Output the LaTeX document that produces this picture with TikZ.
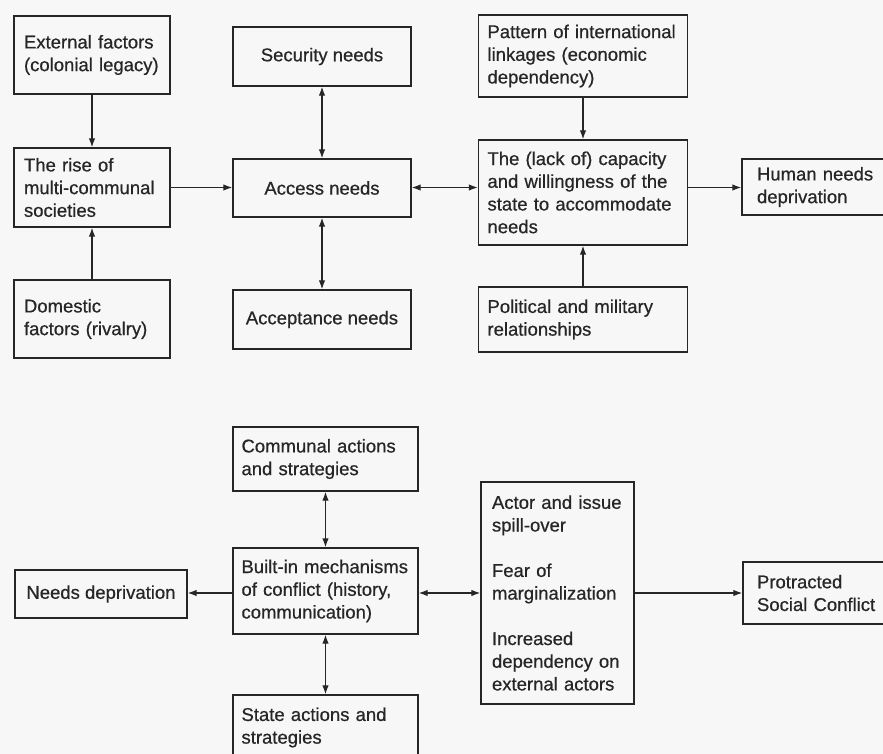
\documentclass[tikz,border=0pt]{standalone}
\usepackage{fontspec}
\setmainfont{Liberation Sans}[FakeBold=0.6]
\usetikzlibrary{arrows.meta}
\definecolor{ink}{HTML}{262626}
\definecolor{paper}{HTML}{F7F7F7}
\begin{document}
\begin{tikzpicture}[x=1pt,y=-1pt,
  box/.style={draw=ink, line width=1.4pt, text=ink, inner sep=0pt,
    font=\fontsize{18.5}{22.7}\selectfont},
  lbox/.style n args={3}{box, minimum width=#1, minimum height=#2, text width=#3, align=left},
  cbox/.style 2 args={box, minimum width=#1, minimum height=#2, align=center},
  arr/.style={draw=ink, line width=1.2pt, >={Latex[length=9pt,width=6.5pt]}}]
\useasboundingbox (0,0) rectangle (883,754);
\clip (0,0) rectangle (883,754);
\fill[paper] (0,0) rectangle (883,754);

% top half
\node[lbox={156pt}{78pt}{136pt}] (ext) at (92,55) {External factors\\(colonial legacy)};
\node[lbox={156pt}{79pt}{136pt}] (rise) at (92,187.5) {The rise of\\multi-communal\\societies};
\node[lbox={156pt}{78pt}{136pt}] (dom) at (92,319) {Domestic\\factors (rivalry)};
\node[cbox={178pt}{59pt}] (sec) at (322,56.5) {Security needs};
\node[cbox={178pt}{58pt}] (acc) at (322,188) {Access needs};
\node[cbox={178pt}{59pt}] (acp) at (322,319.5) {Acceptance needs};
\node[lbox={209pt}{82pt}{191pt}] (pat) at (583,56) {Pattern of international\\linkages (economic\\dependency)};
\node[lbox={209pt}{105pt}{191pt}] (cap) at (583,192.5) {The (lack of) capacity\\and willingness of the\\state to accommodate\\needs};
\node[lbox={209pt}{65pt}{191pt}] (pol) at (583,319.5) {Political and military\\relationships};
\node[lbox={150pt}{56pt}{120pt}] (hum) at (817,187) {Human needs\\deprivation};

% bottom half
\node[lbox={185pt}{64pt}{168pt}] (comm) at (325.5,459) {Communal actions\\and strategies};
\node[lbox={185pt}{86pt}{168pt}] (built) at (325.5,591) {Built-in mechanisms\\of conflict (history,\\communication)};
\node[lbox={185pt}{65pt}{168pt}] (state) at (325.5,727.5) {State actions and\\strategies};
\node[cbox={172pt}{48pt}] (need) at (101,594) {Needs deprivation};
\node[lbox={153pt}{222pt}{131pt}] (actor) at (557.5,593) {Actor and issue\\spill-over\\[22.7pt]Fear of\\marginalization\\[22.7pt]Increased\\dependency on\\external actors};
\node[lbox={149pt}{62pt}{121pt}] (prot) at (817.5,593) {Protracted\\Social Conflict};

% connectors top
\draw[arr,->] (ext) -- (rise);
\draw[arr,->] (dom) -- (rise);
\draw[arr,<->] (sec) -- (acc);
\draw[arr,<->] (acc) -- (acp);
\draw[arr,->] (rise.east) -- (rise.east -| acc.west);
\draw[arr,<->] (rise.east -| acc.east) -- (rise.east -| cap.west);
\draw[arr,->] (pat) -- (cap);
\draw[arr,->] (pol) -- (cap);
\draw[arr,->] (rise.east -| cap.east) -- (rise.east -| hum.west);

% connectors bottom
\draw[arr,<->] (comm) -- (built);
\draw[arr,<->] (built) -- (state);
\draw[arr,->] (actor.west -| built.west) -- (actor.west -| need.east);
\draw[arr,<->] (actor.west -| built.east) -- (actor.west);
\draw[arr,->] (actor.east) -- (prot.west);
\end{tikzpicture}
\end{document}
